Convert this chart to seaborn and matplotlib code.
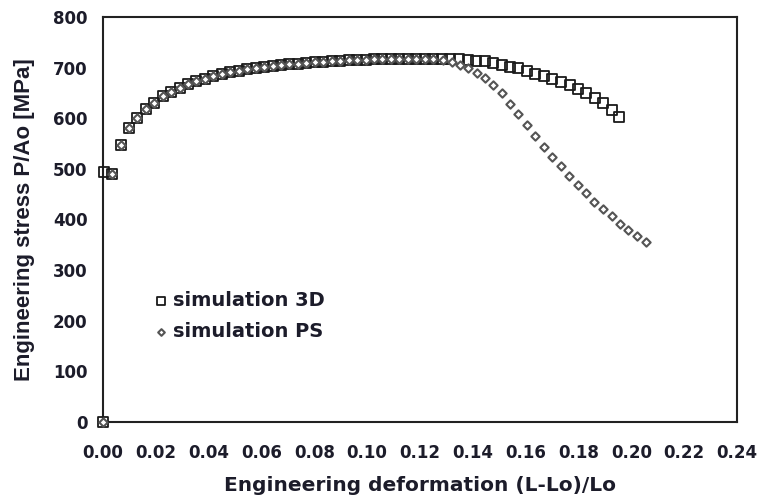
import matplotlib
matplotlib.use("Agg")
import matplotlib.pyplot as plt
from matplotlib.ticker import MultipleLocator, FormatStrFormatter
import seaborn as sns
import pandas as pd

# Engineering strain / stress for the 3D simulation
strain_3d = [0.0, 0.0005, 0.0034, 0.0068, 0.0100, 0.0130, 0.0162, 0.0194, 0.0226,
             0.0258, 0.0290, 0.0322, 0.0354, 0.0386, 0.0418, 0.0450, 0.0482, 0.0514,
             0.0546, 0.0578, 0.0610, 0.0642, 0.0674, 0.0706, 0.0738, 0.0770, 0.0802,
             0.0834, 0.0866, 0.0898, 0.0930, 0.0962, 0.0994, 0.1026, 0.1058, 0.1090,
             0.1122, 0.1154, 0.1186, 0.1218, 0.1250, 0.1282, 0.1314, 0.1346, 0.1380,
             0.1413, 0.1445, 0.1477, 0.1509, 0.1541, 0.1572, 0.1604, 0.1636, 0.1668,
             0.1700, 0.1734, 0.1766, 0.1798, 0.1830, 0.1862, 0.1894, 0.1926, 0.1955]
stress_3d = [0, 494, 490, 547, 580, 601, 618, 631, 643,
             652, 660, 667, 673, 678, 683, 688, 691, 694,
             697, 699, 701, 703, 705, 707, 708, 710, 711,
             712, 713, 714, 715, 716, 716, 717, 717, 718,
             718, 718, 718, 718, 718, 718, 717, 717, 716,
             714, 713, 710, 706, 702, 699, 694, 688, 683,
             678, 672, 666, 657, 649, 640, 630, 617, 602]

# Engineering strain / stress for the plane-strain simulation
strain_ps = [0.0, 0.0034, 0.0068, 0.0100, 0.0130, 0.0162, 0.0194, 0.0226,
             0.0258, 0.0290, 0.0322, 0.0354, 0.0386, 0.0418, 0.0450, 0.0482, 0.0514,
             0.0546, 0.0578, 0.0610, 0.0642, 0.0674, 0.0706, 0.0738, 0.0770, 0.0802,
             0.0834, 0.0866, 0.0898, 0.0930, 0.0962, 0.0994, 0.1026, 0.1058, 0.1090,
             0.1122, 0.1154, 0.1186, 0.1218, 0.1250, 0.1286, 0.1320, 0.1351, 0.1383,
             0.1415, 0.1446, 0.1478, 0.1509, 0.1540, 0.1572, 0.1604, 0.1635, 0.1668,
             0.1701, 0.1733, 0.1765, 0.1797, 0.1828, 0.1860, 0.1892, 0.1926, 0.1957,
             0.1989, 0.2020, 0.2054]
stress_ps = [0, 490, 547, 580, 601, 618, 631, 643,
             652, 660, 667, 673, 678, 683, 688, 691, 694,
             697, 699, 701, 703, 705, 707, 708, 710, 711,
             712, 713, 714, 715, 716, 716, 717, 717, 718,
             718, 718, 718, 718, 718, 716, 712, 705, 699,
             690, 679, 666, 649, 629, 609, 587, 565, 544,
             524, 505, 486, 468, 452, 435, 420, 406, 391,
             379, 367, 355]

x_ticks = [0.00, 0.02, 0.04, 0.06, 0.08, 0.10, 0.12, 0.14, 0.16, 0.18, 0.20, 0.22, 0.24]
y_ticks = [0, 100, 200, 300, 400, 500, 600, 700, 800]

sns.set_style("white")
plt.rcParams["font.family"] = ["DejaVu Sans"]
plt.rcParams["font.weight"] = "bold"

df_3d = pd.DataFrame({"strain": strain_3d, "stress": stress_3d})
df_ps = pd.DataFrame({"strain": strain_ps, "stress": stress_ps})

fig = plt.figure(figsize=(7.61, 5.00), dpi=100)
ax = fig.add_axes([0.1353, 0.156, 0.8332, 0.810])

sns.scatterplot(data=df_3d, x="strain", y="stress", ax=ax, marker="s", s=52,
                facecolor="none", edgecolor="#1a1a1a", linewidth=1.3,
                label="simulation 3D", clip_on=False, zorder=3)
sns.scatterplot(data=df_ps, x="strain", y="stress", ax=ax, marker="D", s=18,
                facecolor="white", edgecolor="#555555", linewidth=1.5,
                label="simulation PS", clip_on=False, zorder=4)

ax.set_xlim(0, 0.24)
ax.set_ylim(0, 800)
ax.set_xticks(x_ticks)
ax.set_yticks(y_ticks)
ax.xaxis.set_major_formatter(FormatStrFormatter("%.2f"))
ax.xaxis.set_minor_locator(MultipleLocator(0.004))
ax.yaxis.set_minor_locator(MultipleLocator(20))

label_color = "#1c1c2a"
tick_font = {"family": "DejaVu Sans", "weight": "bold", "size": 12}
ax.tick_params(axis="both", which="major", direction="inout", width=1.4,
               labelcolor=label_color, color="#222222")
ax.tick_params(axis="y", which="major", length=10, pad=6)
ax.tick_params(axis="x", which="major", length=10, pad=11)
ax.tick_params(axis="y", which="minor", direction="in", length=5, width=1.2, color="#222222")
ax.tick_params(axis="x", which="minor", direction="in", length=3, width=1.2, color="#222222")
ax.tick_params(top=False, right=False, which="both")
ax.set_xticklabels([f"{v:.2f}" for v in x_ticks], fontdict=tick_font)
ax.set_yticklabels([str(v) for v in y_ticks], fontdict=tick_font)

for side in ["left", "right", "top", "bottom"]:
    ax.spines[side].set_visible(True)
    ax.spines[side].set_linewidth(1.5)
    ax.spines[side].set_color("#222222")

ax.set_xlabel("Engineering deformation (L-Lo)/Lo", fontsize=14.5, fontweight="bold",
              family="DejaVu Sans", color=label_color, labelpad=10)
ax.set_ylabel("Engineering stress P/Ao [MPa]", fontsize=16, fontweight="bold",
              family="Liberation Sans", color=label_color, labelpad=13)

leg = ax.legend(loc="upper left", bbox_to_anchor=(0.065, 0.342), frameon=False,
                handletextpad=0.2, labelspacing=0.62, borderaxespad=0,
                prop={"family": "DejaVu Sans", "size": 14, "weight": "bold"},
                handlelength=0.9, markerscale=0.8)
for t in leg.get_texts():
    t.set_color(label_color)

fig.savefig("out.png", dpi=100)
